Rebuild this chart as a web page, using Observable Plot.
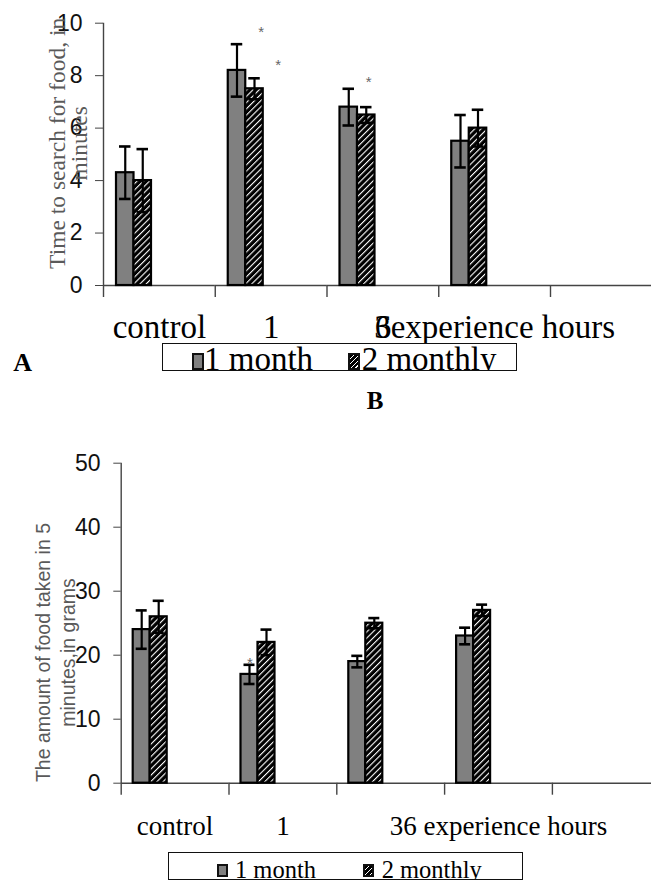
<!DOCTYPE html>
<html>
<head>
<meta charset="utf-8">
<script src="https://cdn.jsdelivr.net/npm/d3@7"></script>
<script src="https://cdn.jsdelivr.net/npm/@observablehq/plot@0.6"></script>
<style>
html, body { margin: 0; padding: 0; background: #fff; }
#page { position: relative; width: 651px; height: 882px; overflow: hidden; background: #fff; }
.chart { position: absolute; left: 0; }
.legend { position: absolute; box-sizing: border-box; border: 1px solid #111; overflow: hidden; background: #fff; }
.legend .t { position: absolute; font-family: "Liberation Serif", "Times New Roman", serif; line-height: 1; white-space: nowrap; color: #000; }
.legend .sw { position: absolute; box-sizing: border-box; border: 2px solid #111; }
.letter { position: absolute; font-family: "Liberation Serif", "Times New Roman", serif; font-weight: bold; line-height: 1; color: #000; }
</style>
</head>
<body>
<svg width="0" height="0" style="position:absolute">
  <defs>
    <pattern id="hatch" patternUnits="userSpaceOnUse" width="4.4" height="4.4" patternTransform="rotate(45)">
      <rect width="4.4" height="4.4" fill="#000"></rect>
      <rect width="1.1" height="4.4" fill="#fff"></rect>
    </pattern>
  </defs>
</svg>
<div id="page">
  <div id="chartA" class="chart" style="top:0px"></div>
  <div id="chartB" class="chart" style="top:440px"></div>
</div>
<script>
// ---------- data ----------
const groups = ["control", "1", "6", "3"];
const slots = ["control", "1", "6", "3", "empty"];
const series = ["1 month", "2 monthly"];

// Chart A: time to search for food (minutes)
const searchMonth1 = [4.3, 8.2, 6.8, 5.5];
const searchMonth2 = [4.0, 7.5, 6.5, 6.0];
const searchErr1 = [1.0, 1.0, 0.7, 1.0];
const searchErr2 = [1.2, 0.4, 0.3, 0.7];
const searchTicks = [0, 2, 4, 6, 8, 10];
const searchLabels = ["control", "1", "6", "3experience hours", ""];
const searchTitle = "Time to search for food, in\nminutes";
const searchStars = [
  {group: "1", series: "2 monthly", value: 9.8},
  {group: "1", series: "2 monthly", value: 8.55},
  {group: "6", series: "2 monthly", value: 7.9}
];

// Chart B: amount of food taken in 5 minutes (grams)
const foodMonth1 = [24, 17, 19, 23];
const foodMonth2 = [26, 22, 25, 27];
const foodErr1 = [3.0, 1.5, 0.9, 1.3];
const foodErr2 = [2.5, 2.0, 0.8, 0.9];
const foodTicks = [0, 10, 20, 30, 40, 50];
const foodLabels = ["control", "1", "", "36 experience hours", ""];
const foodTitle = "The amount of food taken in 5\nminutes,in grams";
const foodStars = [
  {group: "1", series: "1 month", value: 19.3}
];

const panelLetters = ["A", "B"];

// ---------- drawing ----------
const axisColor = "#444";
const serif = "Liberation Serif, Times New Roman, serif";

function chart(o) {
  const rows = [];
  groups.forEach((g, i) => {
    rows.push({group: g, series: series[0], value: o.v1[i], err: o.e1[i]});
    rows.push({group: g, series: series[1], value: o.v2[i], err: o.e2[i]});
  });
  const bw = o.bandWidth;
  const yMax = o.ticks[o.ticks.length - 1];
  const marks = [
    Plot.ruleY([0], {stroke: axisColor, strokeWidth: 1.4}),
    Plot.ruleX(slots, {fx: d => d, x: null, y1: o.yBottom, y2: (d, i) => i === 0 ? yMax : 0,
      dx: -bw / 2, stroke: axisColor, strokeWidth: 1.4}),
    Plot.axisY({ticks: o.ticks, tickSize: o.tickSize, tickPadding: o.tickPadding, fontSize: o.tickFont,
      stroke: axisColor, fill: "#111", label: null, tickFormat: d => String(d)}),
    Plot.barY(rows, {fx: "group", x: "series", y: "value", fill: "series", stroke: "#000", strokeWidth: 2.2}),
    Plot.ruleX(rows, {fx: "group", x: "series", y1: d => d.value - d.err, y2: d => d.value + d.err,
      stroke: "#000", strokeWidth: 2.2}),
    Plot.tickY(rows, {fx: "group", x: "series", y: d => d.value + d.err, inset: 3, stroke: "#000", strokeWidth: 2.6}),
    Plot.tickY(rows, {fx: "group", x: "series", y: d => d.value - d.err, inset: 3, stroke: "#000", strokeWidth: 2.6}),
    Plot.text(slots, {fx: d => d, text: (d, i) => o.labels[i], frameAnchor: "bottom", lineAnchor: "bottom",
      dy: o.labelDy, fontSize: o.labelFont, fontFamily: serif, fill: "#000"}),
    Plot.text([o.title], {fx: () => slots[0], frameAnchor: "left", rotate: -90, lineAnchor: "middle",
      textAnchor: "middle", dx: o.titleDx, dy: o.titleDy, fontSize: o.titleFont, fontFamily: o.titleFamily,
      lineHeight: o.titleLineHeight, fill: "#5a5a5a"}),
    ...o.stars.map((s, i) => Plot.text([s], {fx: "group", x: "series", y: "value", text: () => "*",
      dx: o.starDx[i], dy: 4, fontSize: 15, fill: "#666"}))
  ];
  return Plot.plot({
    width: 651,
    height: o.height,
    marginTop: o.marginTop,
    marginBottom: o.marginBottom,
    marginLeft: o.marginLeft,
    marginRight: 651 - (o.marginLeft + slots.length * bw),
    style: {fontFamily: "Liberation Sans, Arial, sans-serif", fontSize: "14px", background: "transparent", overflow: "hidden"},
    fx: {domain: slots, padding: 0, axis: null, round: false},
    x: {domain: series, paddingInner: 0, paddingOuter: o.paddingOuter, align: o.align, axis: null, round: false},
    y: {domain: [o.yBottom, yMax]},
    color: {domain: series, range: ["#808080", "url(#hatch)"]},
    marks
  });
}

document.getElementById("chartA").append(chart({
  v1: searchMonth1, v2: searchMonth2, e1: searchErr1, e2: searchErr2,
  ticks: searchTicks, labels: searchLabels, title: searchTitle, stars: searchStars, starDx: [6.7, 23.7, 2.5],
  height: 352, marginTop: 22.7, marginBottom: 55, marginLeft: 103, bandWidth: 111.75,
  yBottom: -0.457, paddingOuter: 2.193, align: 0.1694,
  tickSize: 8, tickPadding: 13, tickFont: 23,
  labelDy: 40.7, labelFont: 33,
  titleDx: -34.5, titleDy: -17, titleFont: 23.5, titleFamily: serif, titleLineHeight: 0.94
}));

document.getElementById("chartB").append(chart({
  v1: foodMonth1, v2: foodMonth2, e1: foodErr1, e2: foodErr2,
  ticks: foodTicks, labels: foodLabels, title: foodTitle, stars: foodStars, starDx: [0.3],
  height: 415, marginTop: 22.7, marginBottom: 60.3, marginLeft: 120.7, bandWidth: 107.8,
  yBottom: -1.875, paddingOuter: 2.171, align: 0.1626,
  tickSize: 7.4, tickPadding: 13.3, tickFont: 23,
  labelDy: 39.6, labelFont: 27,
  titleDx: -66.7, titleDy: 23.3, titleFont: 19.5, titleFamily: "Liberation Sans, Arial, sans-serif", titleLineHeight: 1.28
}));

// ---------- legends and panel letters ----------
const page = document.getElementById("page");
const swatchFills = ["#808080", "repeating-linear-gradient(135deg, #000 0px, #000 2.4px, #fff 2.4px, #fff 3.4px)"];

function legend(c) {
  const box = document.createElement("div");
  box.className = "legend";
  Object.assign(box.style, {left: c.left + "px", top: c.top + "px", width: c.width + "px", height: c.height + "px"});
  series.forEach((name, i) => {
    const sw = document.createElement("span");
    sw.className = "sw";
    Object.assign(sw.style, {left: c.swLeft[i] + "px", top: c.swTop + "px", width: c.swW + "px", height: c.swH + "px", background: swatchFills[i]});
    const t = document.createElement("span");
    t.className = "t";
    t.textContent = name;
    Object.assign(t.style, {left: c.textLeft[i] + "px", top: c.textTop + "px", fontSize: c.fontSize + "px"});
    box.append(sw, t);
  });
  page.append(box);
}
legend({left: 161.7, top: 343, width: 355.6, height: 28, swLeft: [29, 185.3], textLeft: [41.3, 199],
  swTop: 9, swW: 12, swH: 17, fontSize: 33, textTop: -1.1});
legend({left: 168.3, top: 851.7, width: 354.4, height: 28.3, swLeft: [48, 194], textLeft: [65.7, 212.4],
  swTop: 11.3, swW: 11, swH: 13, fontSize: 24.5, textTop: 5.1});

function letter(text, left, top, size) {
  const d = document.createElement("div");
  d.className = "letter";
  d.textContent = text;
  Object.assign(d.style, {left: left + "px", top: top + "px", fontSize: size + "px"});
  page.append(d);
}
letter(panelLetters[0], 13.3, 350.2, 26);
letter(panelLetters[1], 366.7, 388.1, 25);
</script>
</body>
</html>
